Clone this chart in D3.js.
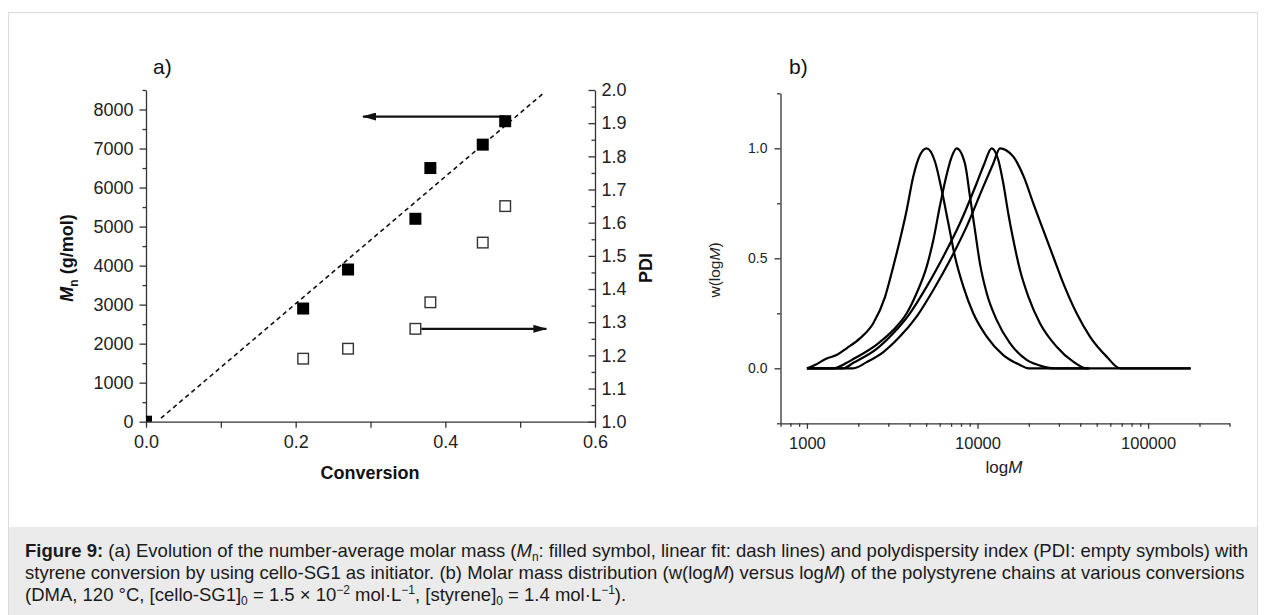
<!DOCTYPE html>
<html>
<head>
<meta charset="utf-8">
<script src="https://cdn.jsdelivr.net/npm/d3@7"></script>
<style>
  body { margin: 0; background: #fff; font-family: "Liberation Sans", Arial, sans-serif; }
  #wrap { position: relative; width: 1265px; height: 615px; overflow: hidden; }
  svg { position: absolute; left: 0; top: 0; }
  .axis path, .axis line { stroke: #333; stroke-width: 1.3; }
  .axis text { fill: #222; font-family: "Liberation Sans", Arial, sans-serif; }
  #caption { position: absolute; left: 25px; top: 540px; font-size: 18.5px; line-height: 22px;
             color: #1a1a1a; white-space: nowrap; }
  #caption sub, #caption sup { font-size: 12px; line-height: 0; vertical-align: baseline;
             position: relative; }
  #caption sub { top: 4px; }
  #caption sup { top: -7px; }
</style>
</head>
<body>
<div id="wrap"></div>
<script>
// ---- panel a) data ----
const conversion = [0, 0.21, 0.27, 0.36, 0.38, 0.45, 0.48];
const mnValues   = [0, 2900, 3900, 5200, 6500, 7100, 7700];
const pdiConv    = [0.21, 0.27, 0.36, 0.38, 0.45, 0.48];
const pdiValues  = [1.19, 1.22, 1.28, 1.36, 1.54, 1.65];
const fitConv    = [0.02, 0.53];
const fitMn      = [90, 8400];
const arrowMn    = [0.48, 0.29, 7820];   // from conv, to conv, at Mn
const arrowPdi   = [0.368, 0.535, 1.28]; // from conv, to conv, at PDI
const convTicks  = [0, 0.2, 0.4, 0.6];
const mnTicks    = [0, 1000, 2000, 3000, 4000, 5000, 6000, 7000, 8000];
const pdiTicks   = [1.0, 1.1, 1.2, 1.3, 1.4, 1.5, 1.6, 1.7, 1.8, 1.9, 2.0];

// ---- panel b) data: [M, w(logM)] ----
const curve1 = [[1000,0],[1114,0.015],[1306,0.045],[1493,0.06],[1710,0.091],[2046,0.136],
  [2449,0.205],[2871,0.325],[3206,0.462],[3508,0.583],[3846,0.72],[4198,0.871],[4603,0.97],
  [5035,1.0],[5636,0.939],[6166,0.81],[6745,0.659],[7379,0.507],[8260,0.371],[9441,0.25],
  [11324,0.144],[14158,0.06],[17742,0.015],[19860,0],[45000,0]];
const curve2 = [[1000,0],[1429,0],[1710,0.025],[1871,0.042],[2564,0.108],[3206,0.174],
  [3846,0.25],[4395,0.341],[5035,0.462],[5508,0.583],[6026,0.74],[6592,0.88],[7047,0.96],
  [7551,1.0],[8433,0.932],[9036,0.78],[9661,0.628],[10328,0.477],[11324,0.341],[12942,0.22],
  [15488,0.114],[19409,0.038],[24266,0.008],[27797,0],[45000,0]];
const curve3 = [[1000,0],[1633,0],[1871,0.025],[2564,0.088],[3206,0.159],[4018,0.25],
  [5035,0.371],[6295,0.507],[7889,0.659],[9886,0.841],[10965,0.93],[12100,1.0],[13243,0.947],
  [14158,0.841],[15136,0.705],[16218,0.583],[17742,0.447],[19860,0.326],[23227,0.205],
  [29107,0.098],[36392,0.03],[43652,0],[177000,0]];
const curve4 = [[1000,0],[1871,0],[2239,0.028],[2805,0.074],[3508,0.144],[4395,0.235],
  [5508,0.356],[6902,0.492],[8630,0.644],[10814,0.826],[12388,0.932],[13552,1.0],[14791,0.99],
  [16218,0.962],[18664,0.871],[21232,0.75],[24266,0.629],[27797,0.507],[31842,0.386],
  [38107,0.25],[45604,0.144],[57148,0.053],[68391,0],[178000,0]];
const curves = [curve1, curve2, curve3, curve4];
const wTicks = [0, 0.5, 1.0];
const mTicks = [1000, 10000, 100000];

const W = 1265, H = 615;
const FONT = '"Liberation Sans", Arial, sans-serif';
const svg = d3.select("#wrap").append("svg").attr("width", W).attr("height", H);

// frame and caption band
svg.append("rect").attr("x", 8.5).attr("y", 12.5).attr("width", 1249).attr("height", 620)
  .attr("fill", "none").attr("stroke", "#dcdcdc");
svg.append("rect").attr("x", 9).attr("y", 527).attr("width", 1248).attr("height", 90)
  .attr("fill", "#ebebeb");

// ================= panel a =================
const x = d3.scaleLinear().domain([0, 0.6]).range([146, 595]);
const yMn = d3.scaleLinear().domain([0, 8500]).range([421.7, 90]);
const yPdi = d3.scaleLinear().domain([1, 2]).range([421.7, 90]);

const gA = svg.append("g");

gA.append("g").attr("class", "axis").attr("transform", "translate(0,421.7)")
  .call(d3.axisBottom(x).tickValues(d3.range(0, 0.61, 0.1)).tickSize(6).tickSizeOuter(0)
    .tickPadding(7.5).tickFormat(d => convTicks.some(t => Math.abs(t - d) < 1e-9) ? d3.format(".1f")(d) : ""))
  .call(g => g.selectAll("text").attr("font-size", 18));

gA.append("g").attr("class", "axis").attr("transform", "translate(146,0)")
  .call(d3.axisLeft(yMn).tickValues(mnTicks).tickSize(6.5).tickSizeOuter(0).tickPadding(6)
    .tickFormat(d3.format("d")))
  .call(g => g.selectAll("text").attr("font-size", 18));
gA.append("g").attr("class", "axis").attr("transform", "translate(146,0)")
  .call(d3.axisLeft(yMn).tickValues(d3.range(500, 8501, 1000)).tickSize(3.5).tickFormat(""))
  .call(g => g.select(".domain").remove());

gA.append("g").attr("class", "axis").attr("transform", "translate(595,0)")
  .call(d3.axisRight(yPdi).tickValues(pdiTicks).tickSize(-6.5).tickSizeOuter(0).tickPadding(6.5)
    .tickFormat(d3.format(".1f")))
  .call(g => g.selectAll("text").attr("font-size", 18));
gA.append("g").attr("class", "axis").attr("transform", "translate(595,0)")
  .call(d3.axisRight(yPdi).tickValues(d3.range(1.05, 2.0, 0.1)).tickSize(-3.5).tickFormat(""))
  .call(g => g.select(".domain").remove());

// clip for the corner point
svg.append("clipPath").attr("id", "clipA").append("rect")
  .attr("x", 146).attr("y", 90).attr("width", 449).attr("height", 331.7);

// dashed linear fit
gA.append("line")
  .attr("x1", x(fitConv[0])).attr("y1", yMn(fitMn[0]))
  .attr("x2", x(fitConv[1])).attr("y2", yMn(fitMn[1]))
  .attr("stroke", "#111").attr("stroke-width", 1.6).attr("stroke-dasharray", "4.5,3.5");

// arrows
const defs = svg.append("defs");
defs.append("marker").attr("id", "head").attr("viewBox", "0 0 14 8")
  .attr("refX", 13).attr("refY", 4).attr("markerWidth", 14).attr("markerHeight", 8)
  .attr("markerUnits", "userSpaceOnUse").attr("orient", "auto")
  .append("path").attr("d", "M0,0 L14,4 L0,8 Z").attr("fill", "#111");
gA.append("line").attr("x1", x(arrowMn[0])).attr("x2", x(arrowMn[1]))
  .attr("y1", yMn(arrowMn[2])).attr("y2", yMn(arrowMn[2]))
  .attr("stroke", "#111").attr("stroke-width", 2.2).attr("marker-end", "url(#head)");
gA.append("line").attr("x1", x(arrowPdi[0])).attr("x2", x(arrowPdi[1]))
  .attr("y1", yPdi(arrowPdi[2])).attr("y2", yPdi(arrowPdi[2]))
  .attr("stroke", "#111").attr("stroke-width", 2.2).attr("marker-end", "url(#head)");

// filled squares (Mn)
const S = 12;
gA.append("g").attr("clip-path", "url(#clipA)").selectAll("rect")
  .data(conversion.map((c, i) => [c, mnValues[i]])).join("rect")
  .attr("x", d => x(d[0]) - S / 2).attr("y", d => yMn(d[1]) - S / 2)
  .attr("width", S).attr("height", S).attr("fill", "#000");

// open squares (PDI)
gA.append("g").selectAll("rect")
  .data(pdiConv.map((c, i) => [c, pdiValues[i]])).join("rect")
  .attr("x", d => x(d[0]) - S / 2 + 0.7).attr("y", d => yPdi(d[1]) - S / 2 + 0.7)
  .attr("width", S - 1.4).attr("height", S - 1.4)
  .attr("fill", "#fff").attr("stroke", "#333").attr("stroke-width", 1.4);

// labels
gA.append("text").attr("x", 153).attr("y", 74).attr("font-size", 21)
  .attr("font-family", FONT).attr("fill", "#111").text("a)");
gA.append("text").attr("x", 370).attr("y", 479).attr("text-anchor", "middle")
  .attr("font-size", 18).attr("font-weight", "bold").attr("font-family", FONT)
  .attr("fill", "#111").text("Conversion");
const mnLab = gA.append("text").attr("transform", "translate(73,258) rotate(-90)")
  .attr("text-anchor", "middle").attr("font-size", 18).attr("font-weight", "bold")
  .attr("font-family", FONT).attr("fill", "#111");
mnLab.append("tspan").attr("font-style", "italic").text("M");
mnLab.append("tspan").attr("font-size", 12).attr("dy", 5).text("n");
mnLab.append("tspan").attr("dy", -5).text(" (g/mol)");
gA.append("text").attr("transform", "translate(652,268) rotate(-90)")
  .attr("text-anchor", "middle").attr("font-size", 18).attr("font-weight", "bold")
  .attr("font-family", FONT).attr("fill", "#111").text("PDI");

// ================= panel b =================
const xM = d3.scaleLog().domain([700, 300000]).range([780.5, 1229.5]);
const yW = d3.scaleLinear().domain([-0.25, 1.25]).range([423.3, 93.3]);
const gB = svg.append("g");

const minorM = [];
[100, 1000, 10000, 100000].forEach(dec => {
  for (let k = 2; k <= 9; k++) {
    const v = dec * k;
    if (v >= 700 && v <= 300000) minorM.push(v);
  }
});

gB.append("g").attr("class", "axis").attr("transform", "translate(0,423.3)")
  .call(d3.axisBottom(xM).tickValues(mTicks).tickSize(5.5).tickSizeOuter(0).tickPadding(8)
    .tickFormat(d3.format("d")))
  .call(g => g.selectAll("text").attr("font-size", 16.5));
gB.append("g").attr("class", "axis").attr("transform", "translate(0,423.3)")
  .call(d3.axisBottom(xM).tickValues(minorM).tickSize(3.5).tickFormat(""))
  .call(g => g.select(".domain").remove());

gB.append("g").attr("class", "axis").attr("transform", "translate(780.5,0)")
  .call(d3.axisLeft(yW).tickValues(wTicks).tickSize(6).tickSizeOuter(0).tickPadding(7)
    .tickFormat(d3.format(".1f")))
  .call(g => g.selectAll("text").attr("font-size", 14));
gB.append("g").attr("class", "axis").attr("transform", "translate(780.5,0)")
  .call(d3.axisLeft(yW).tickValues([-0.25, 0.25, 0.75, 1.25]).tickSize(3.5).tickFormat(""))
  .call(g => g.select(".domain").remove());

const line = d3.line().x(d => xM(d[0])).y(d => yW(d[1])).curve(d3.curveMonotoneX);
gB.append("g").selectAll("path").data(curves).join("path")
  .attr("d", line).attr("fill", "none").attr("stroke", "#000")
  .attr("stroke-width", 2.2).attr("stroke-linejoin", "round");

gB.append("text").attr("x", 789).attr("y", 74).attr("font-size", 21)
  .attr("font-family", FONT).attr("fill", "#111").text("b)");
const wLab = gB.append("text").attr("transform", "translate(720,270) rotate(-90)")
  .attr("text-anchor", "middle").attr("font-size", 15.5).attr("font-family", FONT).attr("fill", "#222");
wLab.append("tspan").text("w(log");
wLab.append("tspan").attr("font-style", "italic").text("M");
wLab.append("tspan").text(")");
const mLab = gB.append("text").attr("x", 1004).attr("y", 473).attr("text-anchor", "middle")
  .attr("font-size", 17).attr("font-family", FONT).attr("fill", "#222");
mLab.append("tspan").text("log");
mLab.append("tspan").attr("font-style", "italic").text("M");

// ================= caption =================
d3.select("#wrap").append("div").attr("id", "caption").html(
  "<b>Figure 9:</b> (a) Evolution of the number-average molar mass (<i>M</i><sub>n</sub>: filled symbol, linear fit: dash lines) and polydispersity index (PDI: empty symbols) with<br>" +
  "styrene conversion by using cello-SG1 as initiator. (b) Molar mass distribution (w(log<i>M</i>) versus log<i>M</i>) of the polystyrene chains at various conversions<br>" +
  "(DMA, 120 °C, [cello-SG1]<sub>0</sub> = 1.5 × 10<sup>−2</sup> mol·L<sup>−1</sup>, [styrene]<sub>0</sub> = 1.4 mol·L<sup>−1</sup>).");
</script>
</body>
</html>
